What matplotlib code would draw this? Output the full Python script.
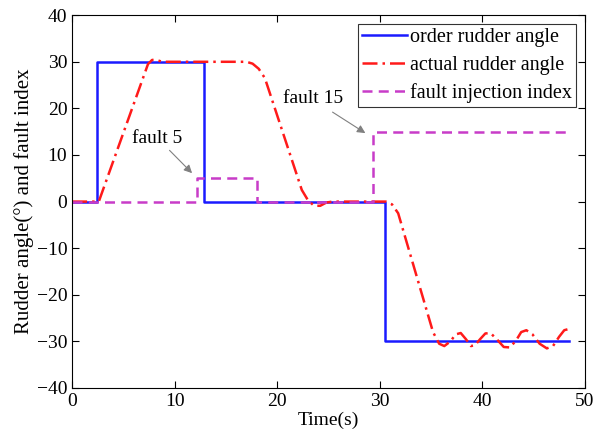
import matplotlib.pyplot as plt

plt.rcParams['font.family'] = ['Liberation Serif', 'DejaVu Serif']

# order rudder angle (step signal)
order_t = [0, 2.4, 2.4, 12.9, 12.9, 30.5, 30.5, 48.5]
order_v = [0, 0, 30, 30, 0, 0, -30, -30]

# actual rudder angle
actual_t = [0, 2.6, 7.4, 7.8, 8.2, 8.8, 17.0, 17.6, 18.2, 18.8, 22.4, 23.0, 23.6, 24.2, 24.8, 25.4,
            30.6, 31.2, 31.8, 35.2, 35.8, 36.3, 36.9, 37.4, 37.9, 38.4, 38.9, 39.3, 39.8, 40.3, 40.8,
            41.4, 42.1, 42.7, 43.3, 43.8, 44.3, 44.9, 45.6, 46.3, 46.9, 47.5, 48.0, 48.5]
actual_v = [0, 0, 29.5, 30.4, 30.4, 30, 30, 29.6, 28.5, 26.5, 2.5, 0.3, -0.9, -0.9, -0.2, 0,
            0, -0.6, -2.5, -28, -30.5, -31.0, -30, -28.5, -28.2, -29.5, -31.0, -30.8, -29.5, -28.3, -28.2,
            -29.5, -31.2, -31.3, -29.8, -28.0, -27.6, -28.5, -30.5, -31.5, -31.0, -29.0, -27.6, -27.3]

# fault injection index
fault_t = [0, 12.2, 12.2, 18.0, 18.0, 29.3, 29.3, 48.5]
fault_v = [0, 0, 5, 5, 0, 0, 15, 15]

fig = plt.figure(figsize=(6.01, 4.34), dpi=100)
ax = fig.add_axes([0.12, 0.106, 0.853, 0.859])

ax.plot(order_t, order_v, color='#1a1aff', lw=1.8, label='order rudder angle')
ax.plot(actual_t, actual_v, color='#ff1a1a', lw=1.8, linestyle=(0, (6, 2, 1, 2)),
        label='actual rudder angle')
ax.plot(fault_t, fault_v, color='#c83cc8', lw=1.8, linestyle=(0, (4, 2.5)),
        label='fault injection index')

arrow = dict(arrowstyle='-|>', color='#808080', lw=0.8, shrinkA=0, shrinkB=0,
             mutation_scale=12)
ax.text(5.8, 13.6, 'fault 5', fontsize=14, va='center')
ax.annotate('', xy=(11.7, 6.1), xytext=(9.5, 11.0), arrowprops=arrow)
ax.text(20.6, 22.2, 'fault 15', fontsize=14, va='center')
ax.annotate('', xy=(28.6, 14.7), xytext=(25.4, 19.2), arrowprops=arrow)

ax.set_xlim(0, 50)
ax.set_ylim(-40, 40)
ax.set_xticks(range(0, 51, 10))
ax.set_yticks(range(-40, 41, 10))
ax.tick_params(direction='in', top=True, right=True, labelsize=14, length=5)
ax.set_xlabel('Time(s)', fontsize=14, labelpad=1)
ax.set_ylabel('Rudder angle(°) and fault index', fontsize=15, labelpad=2)

leg = ax.legend(loc='upper right', fontsize=14.5, fancybox=False, edgecolor='black',
                handlelength=2.2, handletextpad=0.15, borderpad=0.2, labelspacing=0.42,
                borderaxespad=0.45)
leg.get_frame().set_linewidth(0.8)

fig.savefig('out.png', dpi=100)
